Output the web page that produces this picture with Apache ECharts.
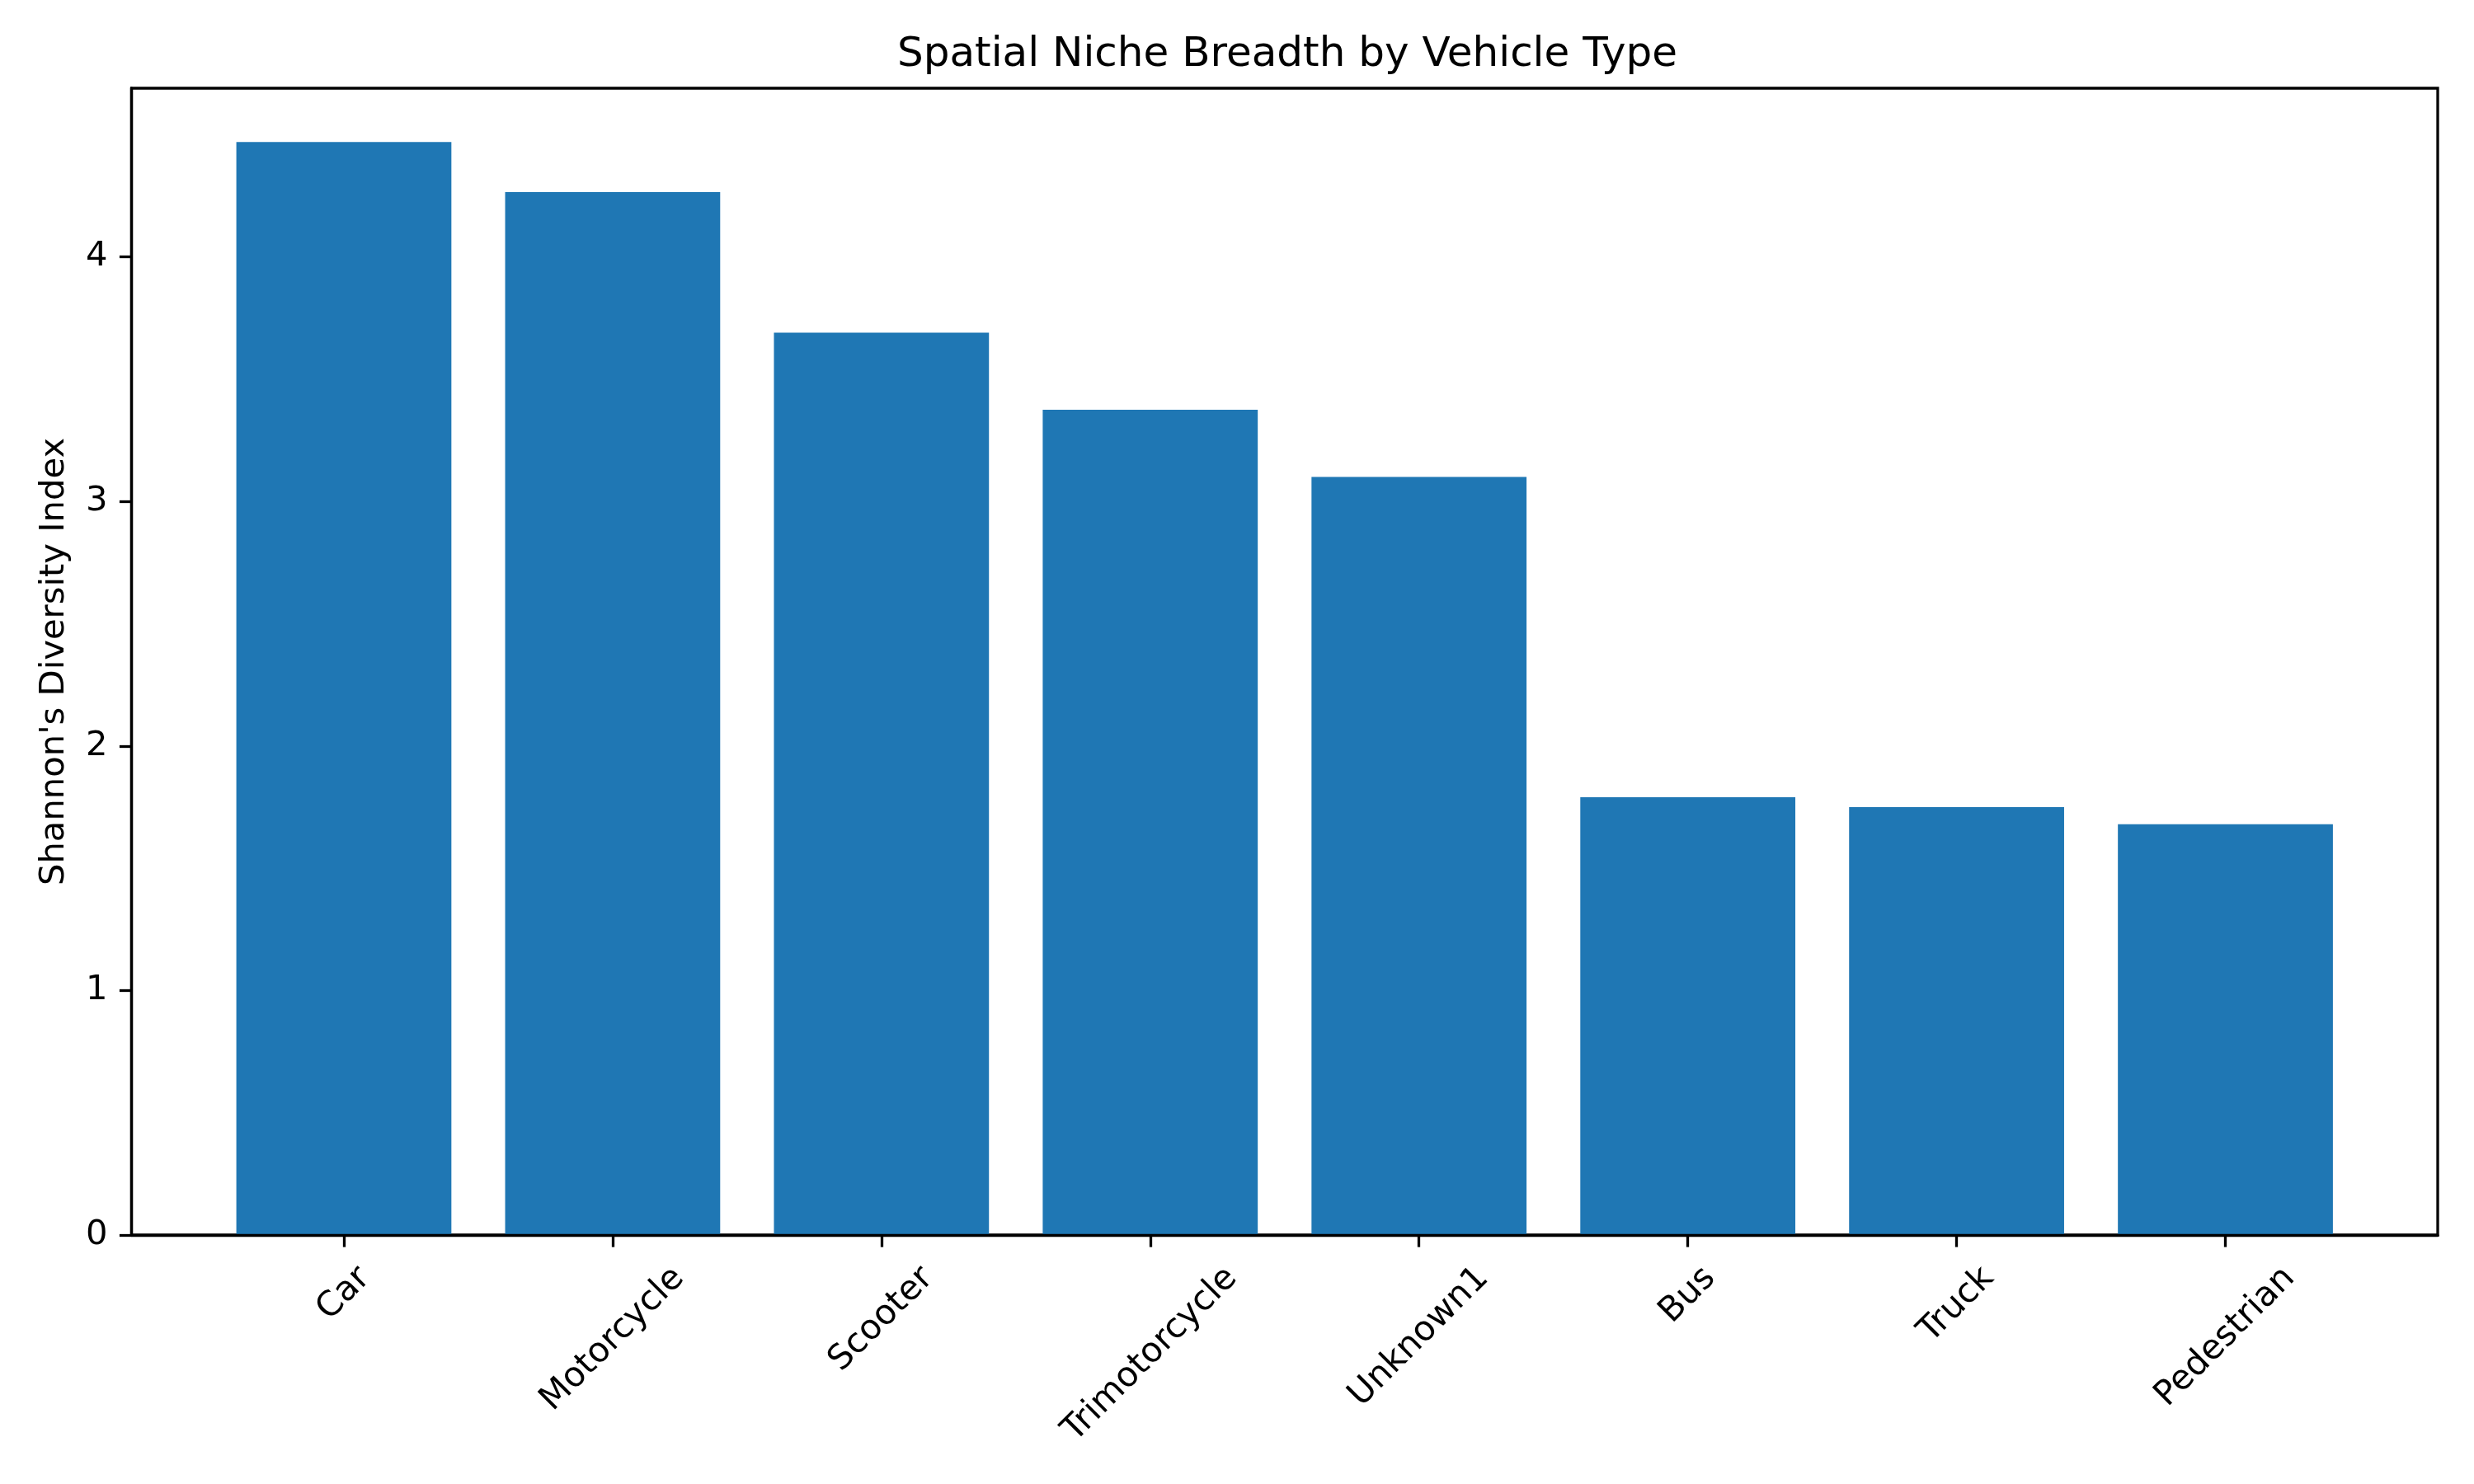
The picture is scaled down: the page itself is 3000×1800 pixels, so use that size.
<!DOCTYPE html>
<html>
<head>
<meta charset="utf-8">
<title>Spatial Niche Breadth by Vehicle Type</title>
<script src="https://cdn.jsdelivr.net/npm/echarts@6/dist/echarts.min.js"></script>
<style>
html, body { margin: 0; padding: 0; background: #fff; }
#chart { width: 3000px; height: 1800px; }
</style>
</head>
<body>
<div id="chart"></div>
<script>
var vehicleTypes = ['Car', 'Motorcycle', 'Scooter', 'Trimotorcycle', 'Unknown1', 'Bus', 'Truck', 'Pedestrian'];
var diversityIndex = [4.47, 4.265, 3.69, 3.375, 3.10, 1.79, 1.75, 1.68];
var yTicks = [0, 1, 2, 3, 4];
var yMax = 4.69;

var barColor = '#1f77b4';
var font = 'DejaVu Sans';
var fs = 41.7;      // 10pt at 300dpi
var lw = 3.3;       // 0.8pt lines

// matplotlib centres the rotated label box under the tick,
// so push each label down by its own length (measured here)
var ctx = document.createElement('canvas').getContext('2d');
ctx.font = fs + 'px "' + font + '"';
var rich = {};
vehicleTypes.forEach(function (name, i) {
    var half = ctx.measureText(name).width / 2;
    rich['l' + i] = {
        fontFamily: font,
        fontSize: fs,
        lineHeight: 49,
        color: '#000',
        padding: [half, half, 0, 0]
    };
});

var option = {
    animation: false,
    backgroundColor: '#fff',
    title: {
        text: 'Spatial Niche Breadth by Vehicle Type',
        left: 1556,
        top: 37,
        textAlign: 'center',
        textStyle: { fontFamily: font, fontSize: 50, fontWeight: 'normal', color: '#000' }
    },
    grid: [
        {   // frame + y axis
            left: 159.5, right: 44, top: 107, bottom: 302,
            show: true, borderColor: '#000', borderWidth: lw,
            backgroundColor: 'transparent'
        },
        {   // bars, matplotlib x margins
            left: 254, right: 138.5, top: 107, bottom: 302
        }
    ],
    xAxis: [
        {
            gridIndex: 0, type: 'value', min: 0, max: 1, z: 5,
            axisLine: { show: true, lineStyle: { color: '#000', width: lw } },
            axisTick: { show: false },
            axisLabel: { show: false },
            splitLine: { show: false }
        },
        {
            gridIndex: 1, type: 'category', data: vehicleTypes,
            axisLine: { show: false },
            axisTick: { show: true, alignWithLabel: true, length: 14.6, lineStyle: { color: '#000', width: lw } },
            axisLabel: {
                rotate: 45,
                align: 'center',
                verticalAlign: 'middle',
                margin: 46,
                interval: 0,
                formatter: function (v, i) { return '{l' + i + '|' + v + '}'; },
                rich: rich
            },
            splitLine: { show: false }
        }
    ],
    yAxis: [
        {
            gridIndex: 0, type: 'value', min: 0, max: yMax, interval: 1,
            name: "Shannon's Diversity Index",
            nameLocation: 'middle',
            nameGap: 72,
            nameTextStyle: { fontFamily: font, fontSize: fs, color: '#000' },
            axisLine: { show: true, lineStyle: { color: '#000', width: lw } },
            axisTick: { show: true, length: 14.6, customValues: yTicks, lineStyle: { color: '#000', width: lw } },
            axisLabel: {
                customValues: yTicks,
                margin: 29, fontFamily: font, fontSize: fs, color: '#000'
            },
            splitLine: { show: false }
        },
        { gridIndex: 1, type: 'value', min: 0, max: yMax, show: false, splitLine: { show: false } }
    ],
    series: [
        {
            type: 'bar',
            xAxisIndex: 1,
            yAxisIndex: 1,
            data: diversityIndex,
            barWidth: '80%',
            itemStyle: { color: barColor }
        }
    ]
};

var myChart = echarts.init(document.getElementById('chart'));
myChart.setOption(option);
</script>
</body>
</html>
